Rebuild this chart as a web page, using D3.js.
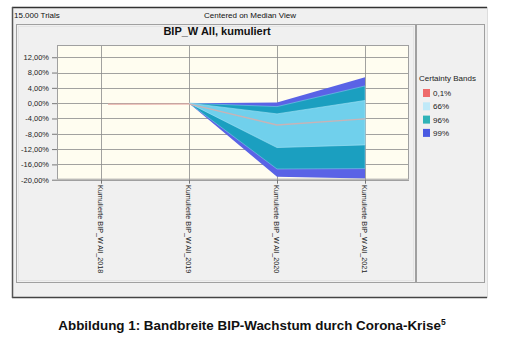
<!DOCTYPE html>
<html><head><meta charset="utf-8">
<script src="https://cdn.jsdelivr.net/npm/d3@7/dist/d3.min.js"></script>
<style>html,body{margin:0;padding:0;background:#fff;}svg{display:block;font-family:Arial,"Liberation Sans",sans-serif;}</style>
</head><body>
<svg id="c" width="507" height="338"></svg>
<script>
const categories = ["Kumulierte BIP_W All_2018","Kumulierte BIP_W All_2019","Kumulierte BIP_W All_2020","Kumulierte BIP_W All_2021"];
const median = [-0.3, -0.2, -5.7, -4.1];
const p66Low = [-0.3, 0, -11.6, -10.9];
const p66High = [-0.3, 0, -2.8, 0.7];
const p95Low = [-0.3, 0, -17.2, -17.1];
const p95High = [-0.3, 0, -0.9, 4.5];
const p99Low = [-0.3, 0, -19.2, -19.7];
const p99High = [-0.3, 0, 0.2, 6.8];
const yTicks = [12, 8, 4, 0, -4, -8, -12, -16, -20];
const legendLabels = ["0,1%", "66%", "96%", "99%"];
const legendColors = ["#ee6a6a", "#bfe9f8", "#2fb3b8", "#4a5ae2"];

const svg = d3.select("#c");
// window frame
svg.append("rect").attr("x",12).attr("y",7).attr("width",475).attr("height",291).attr("fill","#f0f0f0");
svg.append("line").attr("x1",12).attr("x2",487).attr("y1",7.5).attr("y2",7.5).attr("stroke","#333").attr("stroke-width",1.5);
svg.append("line").attr("x1",12).attr("x2",487).attr("y1",297.5).attr("y2",297.5).attr("stroke","#444").attr("stroke-width",1.5);
svg.append("line").attr("x1",12.5).attr("x2",12.5).attr("y1",7).attr("y2",298).attr("stroke","#555").attr("stroke-width",1.5);
svg.append("line").attr("x1",487.5).attr("x2",487.5).attr("y1",7).attr("y2",298).attr("stroke","#ddd");
svg.append("text").attr("x",14).attr("y",18).attr("font-size",8).attr("fill","#111").text("15.000 Trials");
svg.append("text").attr("x",250).attr("y",18).attr("font-size",8).attr("fill","#111").attr("text-anchor","middle").text("Centered on Median View");
// panels
svg.append("rect").attr("x",16.5).attr("y",24.5).attr("width",399).attr("height",258).attr("fill","#f0f0f0").attr("stroke","#a0a0a0");
svg.append("rect").attr("x",18.5).attr("y",26.5).attr("width",395).attr("height",254).attr("fill","none").attr("stroke","#e4e4e4");
svg.append("rect").attr("x",416.5).attr("y",24.5).attr("width",68).attr("height",258).attr("fill","#f0f0f0").attr("stroke","#a0a0a0");

svg.append("text").attr("x",217).attr("y",35).attr("font-size",11).attr("font-weight","bold").attr("text-anchor","middle").attr("fill","#111").text("BIP_W All, kumuliert");

const pL = 57, pR = 409, pT = 45, pB = 179.7;
const x = d3.scalePoint().domain(categories).range([pL, pR]).padding(0.5);
const y = d3.scaleLinear().domain([-20, 15.2]).range([pB, pT]);

const g = svg.append("g");
g.append("rect").attr("x",pL).attr("y",pT).attr("width",pR-pL).attr("height",pB-pT).attr("fill","#fffdf0");

// grid
g.selectAll(".hg").data(yTicks).join("line").attr("x1",pL).attr("x2",pR)
  .attr("y1",d=>Math.round(y(d))+0.5).attr("y2",d=>Math.round(y(d))+0.5).attr("stroke","#8a8a8a").attr("stroke-width",0.8);
g.selectAll(".vg").data(categories).join("line").attr("y1",pT).attr("y2",pB)
  .attr("x1",d=>Math.round(x(d))+0.5).attr("x2",d=>Math.round(x(d))+0.5).attr("stroke","#8a8a8a").attr("stroke-width",0.8);

const idx = d3.range(categories.length);
function area(lo, hi){
  return d3.area().x(i=>x(categories[i])).y0(i=>y(lo[i])).y1(i=>y(hi[i]))(idx.slice(1));
}
const bandCol99 = "#5a63e6", bandCol95 = "#1b9fc0", bandCol66 = "#70d0ec";
g.append("path").attr("d",area(p99Low,p99High)).attr("fill",bandCol99);
g.append("path").attr("d",area(p95Low,p95High)).attr("fill",bandCol95).attr("stroke","#7fc9e6").attr("stroke-width",0.6);
g.append("path").attr("d",area(p66Low,p66High)).attr("fill",bandCol66).attr("stroke","#a8e4f6").attr("stroke-width",0.6);
g.append("path").attr("d",d3.line().x(i=>x(categories[i])+(i===0?7:0)).y(i=>y(median[i]))(idx))
  .attr("fill","none").attr("stroke","#e6aaa4").attr("stroke-opacity",0.75).attr("stroke-width",1.4);

// border of plot
g.append("rect").attr("x",pL+0.5).attr("y",pT+0.5).attr("width",pR-pL-1).attr("height",pB-pT-1).attr("fill","none").attr("stroke","#a0a0a0");

// y axis
const yAxis = d3.axisLeft(y).tickValues(yTicks).tickSize(5).tickPadding(3)
  .tickFormat(d=>d3.format(".2f")(d).replace(".",",").replace("\u2212","-")+"%");
const ya = svg.append("g").attr("transform",`translate(${pL},0)`).call(yAxis);
ya.select(".domain").remove();
ya.selectAll(".tick line").attr("stroke","#777");
ya.selectAll("text").attr("font-size",7.5).attr("fill","#222").attr("font-family","Arial,'Liberation Sans',sans-serif");

// x labels
svg.selectAll(".xl").data(categories).join("text")
  .attr("transform",d=>`translate(${x(d)},185) rotate(90)`)
  .attr("dy","0.35em").attr("font-size",7.2).attr("fill","#222").text(d=>d);
svg.selectAll(".xt").data(categories).join("line")
  .attr("x1",d=>Math.round(x(d))+0.5).attr("x2",d=>Math.round(x(d))+0.5).attr("y1",pB).attr("y2",pB+4).attr("stroke","#777");

// legend
svg.append("text").attr("x",419).attr("y",81).attr("font-size",8).attr("fill","#222").text("Certainty Bands");
const lg = svg.selectAll(".lg").data(legendLabels).join("g").attr("transform",(d,i)=>`translate(423,${89+i*13.3})`);
lg.append("rect").attr("width",7).attr("height",8).attr("fill",(d,i)=>legendColors[i]);
lg.append("text").attr("x",10).attr("y",7).attr("font-size",8).attr("fill","#222").text(d=>d);

// caption
const cap = svg.append("text").attr("x",252).attr("y",330).attr("font-size",13.4).attr("font-weight","bold").attr("text-anchor","middle").attr("fill","#111");
cap.append("tspan").text("Abbildung 1: Bandbreite BIP-Wachstum durch Corona-Krise");
cap.append("tspan").attr("font-size",8.5).attr("dy",-5).text("5");
</script>
</body></html>
